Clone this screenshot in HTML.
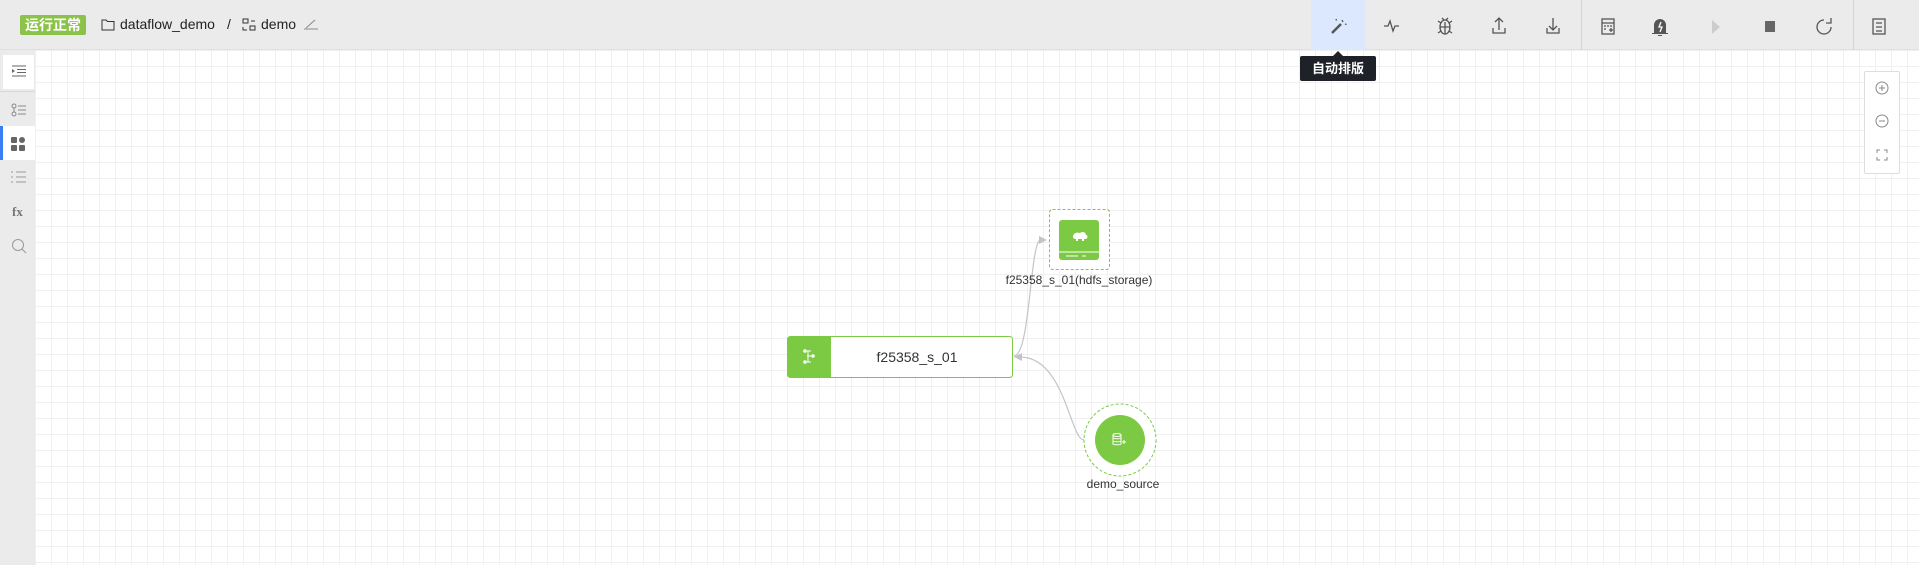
<!DOCTYPE html>
<html><head><meta charset="utf-8"><style>
*{margin:0;padding:0;box-sizing:border-box}
body{width:1919px;height:565px;overflow:hidden;background:#fff;font-family:"Liberation Sans","Noto Sans CJK SC",sans-serif;position:relative}
.top{position:absolute;left:0;top:0;width:1919px;height:50px;background:#ebebeb;border-bottom:1px solid #e0e0e0}
.side{position:absolute;left:0;top:50px;width:35px;height:515px;background:#ebebeb}
.grid{position:absolute;left:35px;top:50px;right:0;bottom:0;background-image:linear-gradient(#f0f0f0 1px,transparent 1px),linear-gradient(90deg,#f0f0f0 1px,transparent 1px);background-size:16px 16px}
.badge{position:absolute;left:20px;top:15px;width:66px;height:20px;background:#8bc34a;color:#fff;font-size:14px;font-weight:bold;text-align:center;line-height:20px;border-radius:2px}
.bc{position:absolute;top:16px;font-size:14px;color:#222}
.tip{position:absolute;left:1300px;top:56px;width:76px;height:25px;background:#1f2129;color:#fff;font-size:13px;font-weight:bold;text-align:center;line-height:25px;border-radius:2px}
.tip:before{content:"";position:absolute;left:33px;top:-5px;border:5px solid transparent;border-top:0;border-bottom-color:#1f2129}
</style></head><body>
<div class="top"></div>
<div class="side"></div>
<div class="grid"></div>
<div class="badge">运行正常</div>
<svg style="position:absolute;left:101px;top:18px" width="14" height="13"><path d="M1 2h4l1.5 1.5H13V12H1z" fill="none" stroke="#333" stroke-width="1"/></svg>
<div class="bc" style="left:120px">dataflow_demo</div>
<div class="bc" style="left:227px">/</div>
<svg style="position:absolute;left:242px;top:18px" width="14" height="14"><rect x="1" y="1" width="5" height="4" fill="none" stroke="#333"/><rect x="8" y="8" width="5" height="4" fill="none" stroke="#333"/><path d="M9 3h4M1 9v3h4" stroke="#333" fill="none"/></svg>
<div class="bc" style="left:261px">demo</div>
<svg style="position:absolute;left:303px;top:18px" width="16" height="12"><path d="M1 11h14M3 10l9-8" stroke="#888" fill="none"/></svg>
<!-- sidebar -->
<div style="position:absolute;left:3px;top:55px;width:31px;height:34px;background:#fff"></div>
<div style="position:absolute;left:0;top:91px;width:35px;height:1px;background:#d8d8d8"></div>
<div style="position:absolute;left:0;top:126px;width:35px;height:34px;background:#fff;border-left:3px solid #3a7ef5"></div>
<svg style="position:absolute;left:11px;top:65px" width="16" height="12"><path d="M1 4l3 2-3 2z" fill="#666"/><path d="M1 1h14M6 4.5h9M6 7.5h9M1 11h14" stroke="#666"/></svg>
<svg style="position:absolute;left:11px;top:103px" width="16" height="14"><circle cx="3" cy="3" r="2" fill="none" stroke="#888"/><circle cx="3" cy="11" r="2" fill="none" stroke="#888"/><path d="M7 3h8M7 7h8M7 11h8M3 5v4" stroke="#888"/></svg>
<svg style="position:absolute;left:11px;top:137px" width="14" height="14"><rect x="0" y="0" width="6" height="6" rx="1" fill="#666"/><circle cx="11" cy="3" r="3" fill="#666"/><rect x="0" y="8" width="6" height="6" rx="1" fill="#666"/><rect x="8" y="8" width="6" height="6" rx="1" fill="#666"/></svg>
<svg style="position:absolute;left:11px;top:171px" width="16" height="12"><path d="M0 1h2M0 6h2M0 11h2M5 1h10M5 6h10M5 11h10" stroke="#999"/></svg>
<div style="position:absolute;left:12px;top:204px;font-family:'Liberation Serif',serif;font-weight:bold;font-size:13px;color:#777">fx</div>
<svg style="position:absolute;left:11px;top:238px" width="16" height="16"><circle cx="7" cy="7" r="5.5" fill="none" stroke="#999"/><path d="M11 11l4 4" stroke="#999"/></svg>
<!-- toolbar -->
<div style="position:absolute;left:1311px;top:0;width:54px;height:50px;background:#dbe8fd"></div>
<div style="position:absolute;left:1581px;top:0;width:1px;height:50px;background:#d4d4d4"></div>
<div style="position:absolute;left:1853px;top:0;width:1px;height:50px;background:#d4d4d4"></div>
<svg style="position:absolute;left:0;top:0" width="1919" height="50">
<g stroke="#555" fill="none" stroke-width="1.3">
<path d="M1332 33l9-9" stroke-width="2.5"/><path d="M1342 20l1 2M1336 19l.5 1.5M1345 24l1.5.5"/>
<path d="M1384 26h4l2-5 3 10 2-5h4"/>
<ellipse cx="1445" cy="27" rx="5" ry="7"/><path d="M1440 27h10M1445 22v12M1438 21l3 2M1452 21l-3 2M1438 33l3-2M1452 33l-3-2M1442 18l2 2M1448 18l-2 2"/>
<path d="M1493 28v5h12v-5M1499 30v-12M1495 22l4-4 4 4"/>
<path d="M1547 28v5h12v-5M1553 18v12M1549 26l4 4 4-4"/>
<rect x="1602" y="19" width="12" height="15"/><path d="M1602 23h12M1604 26h2M1607 26h2M1610 26h2M1604 29h2M1609 30h4M1611 28v4"/>
<path d="M1824 20a7 7 0 1 0 7 7M1831 18v5h-5"/>
<rect x="1873" y="19" width="12" height="15"/><path d="M1876 23h6M1876 27h6M1876 31h6"/>
</g>
<path d="M1654 33v-8a6 6 0 0 1 12 0v8h2v1h-16v-1zM1658 35h4v1h-4z" fill="#555"/><path d="M1661 22l-2 5h3l-2 5" stroke="#fff" fill="none" stroke-width="1.3"/>
<path d="M1712 20l8 7-8 7z" fill="#ccc"/>
<rect x="1765" y="21" width="10" height="11" fill="#666"/>
</svg>
<div class="tip">自动排版</div>
<!-- zoom panel -->
<div style="position:absolute;left:1864px;top:71px;width:36px;height:103px;background:#fff;border:1px solid #ddd;border-radius:2px"></div>
<svg style="position:absolute;left:1864px;top:71px" width="36" height="103" fill="none" stroke="#888"><circle cx="18" cy="17" r="6"/><path d="M15 17h6M18 14v6"/><circle cx="18" cy="50" r="6"/><path d="M15 50h6"/><path d="M13 82v-3h3M20 79h3v3M23 86v3h-3M16 89h-3v-3"/></svg>
<!-- edges -->
<svg style="position:absolute;left:0;top:0" width="1919" height="565">
<g fill="none" stroke="#c4c4c8" stroke-width="1.2">
<path d="M1014 356C1030 356 1030 245 1040 240"/>
<path d="M1084 440C1070 440 1065 357 1020 357"/>
</g>
<path d="M1047 240l-8-4v8z" fill="#c4c4c8"/>
<path d="M1014 357l8-4v8z" fill="#c4c4c8"/>
<!-- rect node -->
<rect x="787.5" y="336.5" width="225" height="41" rx="3" fill="#fff" stroke="#7cc943"/>
<path d="M790 336.5h41v41h-41a3 3 0 0 1-3-3v-35a3 3 0 0 1 3-3z" fill="#7cc943"/>
<g stroke="#fff" fill="#fff"><circle cx="805" cy="351" r="1.3"/><circle cx="805" cy="362" r="1.3"/><circle cx="813" cy="356" r="1.3"/><path d="M807 351h4M807 362h4M807 356h4M808 351v11" fill="none"/></g>
<text x="917" y="362" font-size="14" fill="#333" font-family="Liberation Sans" text-anchor="middle">f25358_s_01</text>
<!-- storage -->
<rect x="1049.5" y="209.5" width="60" height="60" rx="3" fill="#fff" stroke="#7cc943" stroke-dasharray="3,2"/>
<rect x="1059" y="220" width="40" height="40" rx="3" fill="#7cc943"/>
<path d="M1059 252h40" stroke="#fff"/>
<path d="M1066 256h12M1082 256h4" stroke="#fff"/>
<path d="M1073 237c0-4 4-5 7-4 2-2 6-1 6 2 2 0 2 3 0 4h-2v2h-2v-2h-4v2h-2v-2c-2 0-3-1-3-2z" fill="#fff"/>
<text x="1079" y="284" font-size="12" fill="#333" font-family="Liberation Sans" text-anchor="middle">f25358_s_01(hdfs_storage)</text>
<!-- source -->
<circle cx="1120" cy="440" r="36" fill="#fff" stroke="#7cc943" stroke-dasharray="3,2"/>
<circle cx="1120" cy="440" r="25" fill="#7cc943"/>
<g stroke="#fff" fill="none"><ellipse cx="1117" cy="435" rx="4" ry="1.5"/><path d="M1113 435v9c0 1 8 1 8 0v-9M1113 438c0 1 8 1 8 0M1113 441c0 1 8 1 8 0M1122 442h4M1124 440v4"/></g>
<text x="1123" y="488" font-size="12" fill="#333" font-family="Liberation Sans" text-anchor="middle">demo_source</text>
</svg>
</body></html>
